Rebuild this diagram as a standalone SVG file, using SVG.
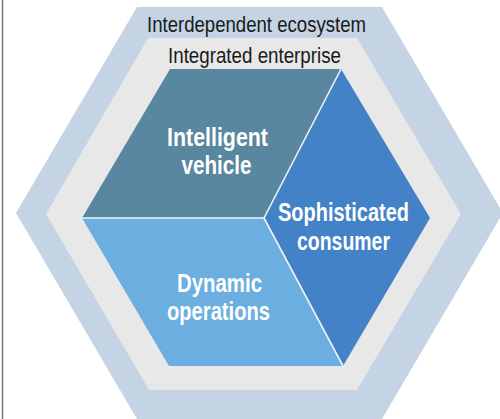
<svg xmlns="http://www.w3.org/2000/svg" width="500" height="419" viewBox="0 0 500 419">
<style>
.ring{font-family:"Liberation Sans",Arial,sans-serif;font-size:22px;fill:#1a1a1a;text-anchor:middle}
.lbl{font-family:"Liberation Sans",Arial,sans-serif;font-size:25px;font-weight:bold;fill:#fff;text-anchor:middle}
.sep{stroke:#f2f2f2;stroke-width:1.6;fill:none}
</style>
<rect width="500" height="419" fill="#fff"/>
<line x1="2.5" y1="0" x2="2.5" y2="419" stroke="#7a7a7a" stroke-width="1.5"/>
<g id="ecosystem">
<polygon points="137,7 382,7 503,213 382,419 137,419 16,213" fill="#c4d4e4"/>
<text class="ring" x="256.5" y="31.5" textLength="219" lengthAdjust="spacingAndGlyphs">Interdependent ecosystem</text>
</g>
<g id="enterprise">
<polygon points="148,38 357,38 461,214 357,390 149,390 46,214" fill="#e8e8e8"/>
<text class="ring" x="254.5" y="63" textLength="173" lengthAdjust="spacingAndGlyphs">Integrated enterprise</text>
</g>
<g id="intelligent-vehicle">
<polygon points="170,69 341,69 264,218 82,218" fill="#58879f"/>
<text class="lbl" x="217.5" y="146" textLength="101" lengthAdjust="spacingAndGlyphs">Intelligent</text>
<text class="lbl" x="216.5" y="174" textLength="70" lengthAdjust="spacingAndGlyphs">vehicle</text>
</g>
<g id="sophisticated-consumer">
<polygon points="341,69 430,218 343,366 264,218" fill="#4382c6"/>
<text class="lbl" x="343.5" y="221" textLength="131" lengthAdjust="spacingAndGlyphs">Sophisticated</text>
<text class="lbl" x="343.5" y="250" textLength="93" lengthAdjust="spacingAndGlyphs">consumer</text>
</g>
<g id="dynamic-operations">
<polygon points="82,218 264,218 343,366 169,366" fill="#6baee0"/>
<text class="lbl" x="219.5" y="292" textLength="85" lengthAdjust="spacingAndGlyphs">Dynamic</text>
<text class="lbl" x="218.5" y="320" textLength="103" lengthAdjust="spacingAndGlyphs">operations</text>
</g>
<g id="connectors">
<line class="sep" x1="341" y1="69" x2="264" y2="218"/>
<line class="sep" x1="82" y1="218" x2="264" y2="218"/>
<line class="sep" x1="264" y1="218" x2="343" y2="366"/>
</g>
</svg>
